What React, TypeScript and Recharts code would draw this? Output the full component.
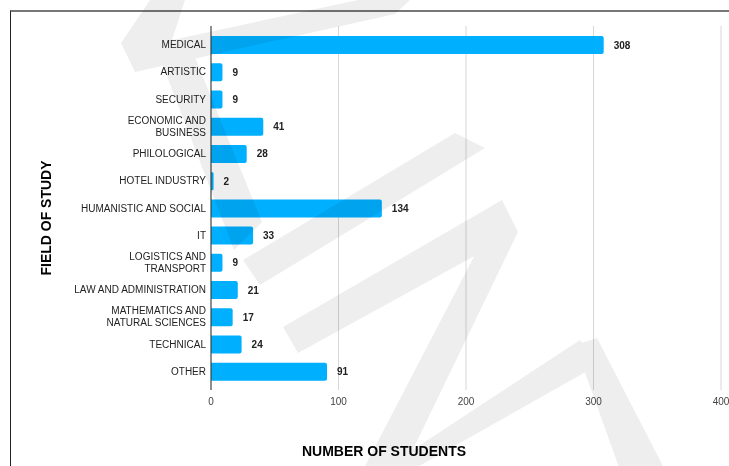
import { BarChart, Bar, XAxis, YAxis, CartesianGrid, LabelList } from "recharts";

const categories = [
  "MEDICAL",
  "ARTISTIC",
  "SECURITY",
  "ECONOMIC AND\nBUSINESS",
  "PHILOLOGICAL",
  "HOTEL INDUSTRY",
  "HUMANISTIC AND SOCIAL",
  "IT",
  "LOGISTICS AND\nTRANSPORT",
  "LAW AND ADMINISTRATION",
  "MATHEMATICS AND\nNATURAL SCIENCES",
  "TECHNICAL",
  "OTHER",
];

const students = [308, 9, 9, 41, 28, 2, 134, 33, 9, 21, 17, 24, 91];

const xTicks = [0, 100, 200, 300, 400];

const data = categories.map((name, i) => ({ name, value: students[i] }));

const FONT = "'Liberation Sans', Arial, sans-serif";

// background watermark strokes (decoration only)
const watermark = [
  "150,0 121,43 135,72 395,14 410,0 358,0 172,40 185,0",
  "155,45 190,45 262,222 234,250",
  "455,133 485,148 260,285 243,260",
  "283,327 502,200 518,232 298,353",
  "480,245 518,232 403,470 363,470",
  "580,340 598,365 412,470 382,470",
  "575,345 597,338 665,470 620,470",
];

const CategoryTick = (props: any) => {
  const { x, y, payload } = props;
  const lines = String(payload.value).split("\n");
  const lh = 12;
  const start = -((lines.length - 1) * lh) / 2;
  return (
    <text
      x={x}
      y={y}
      textAnchor="end"
      fontSize={10}
      fill="#222"
      fontFamily={FONT}
    >
      {lines.map((l, i) => (
        <tspan key={i} x={x} y={y + start + i * lh} dy="0.35em">
          {l}
        </tspan>
      ))}
    </text>
  );
};

const App = () => {
  return (
    <div
      style={{
        position: "absolute",
        left: 0,
        top: 0,
        width: 729,
        height: 466,
        overflow: "hidden",
        background: "#fff",
        fontFamily: FONT,
      }}
    >
      {/* frame */}
      <div
        style={{
          position: "absolute",
          left: 10,
          top: 10,
          width: 730,
          height: 470,
          borderTop: "2px solid #777",
          borderLeft: "1px solid #222",
        }}
      />

      <div style={{ position: "absolute", left: 0, top: 0 }}>
        <BarChart
          width={729}
          height={466}
          data={data}
          layout="vertical"
          margin={{ top: 26, right: 8, bottom: 46, left: 0 }}
        >
          <CartesianGrid horizontal={false} stroke="#d6d6d6" />
          <XAxis
            type="number"
            domain={[0, 400]}
            ticks={xTicks}
            axisLine={false}
            tickLine={false}
            height={30}
            tick={{ fontSize: 10, fill: "#444", fontFamily: FONT }}
            interval={0}
          />
          <YAxis
            type="category"
            dataKey="name"
            width={211}
            padding={{ top: 5, bottom: 5 }}
            axisLine={{ stroke: "#333" }}
            tickLine={false}
            tickSize={5}
            tickMargin={0}
            tick={<CategoryTick />}
            interval={0}
          />
          <Bar
            dataKey="value"
            fill="#00B0FF"
            barSize={18}
            radius={[0, 2, 2, 0]}
            isAnimationActive={false}
          >
            <LabelList
              dataKey="value"
              position="right"
              offset={10}
              fontSize={10}
              fontWeight="bold"
              fill="#222"
              fontFamily={FONT}
            />
          </Bar>
        </BarChart>
      </div>

      {/* axis titles */}
      <svg
        width={729}
        height={466}
        style={{ position: "absolute", left: 0, top: 0, pointerEvents: "none" }}
      >
        <text
          x={384}
          y={451}
          textAnchor="middle"
          dominantBaseline="central"
          fontSize={14}
          fontWeight="bold"
          fill="#000"
          fontFamily={FONT}
        >
          NUMBER OF STUDENTS
        </text>
        <text
          x={46}
          y={218}
          textAnchor="middle"
          dominantBaseline="central"
          fontSize={14}
          fontWeight="bold"
          fill="#000"
          fontFamily={FONT}
          transform="rotate(-90 46 218)"
        >
          FIELD OF STUDY
        </text>
      </svg>

      {/* watermark */}
      <svg
        width={729}
        height={466}
        style={{
          position: "absolute",
          left: 0,
          top: 0,
          pointerEvents: "none",
          mixBlendMode: "multiply",
        }}
      >
        {watermark.map((p, i) => (
          <polygon key={i} points={p} fill="#eeeeee" />
        ))}
      </svg>
    </div>
  );
};

export default App;
